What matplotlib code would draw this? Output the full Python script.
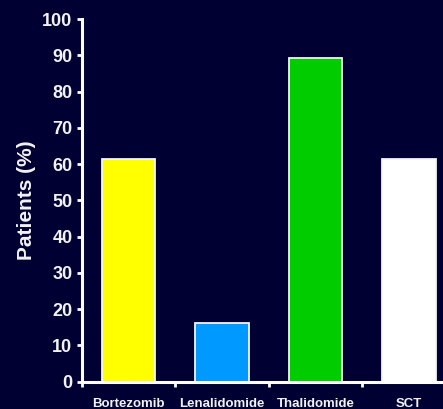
import matplotlib
matplotlib.use("Agg")
import matplotlib.pyplot as plt
import numpy as np

# Share of patients per treatment
categories = ["Bortezomib", "Lenalidomide", "Thalidomide", "SCT"]
values = [61.4, 16.1, 89.4, 61.4]
bar_colors = ["#FFFF00", "#0099FF", "#00CC00", "#FFFFFF"]
y_ticks = [0, 10, 20, 30, 40, 50, 60, 70, 80, 90, 100]

bg = "#000033"
fg = "#F2F2F2"

plt.rcParams["font.family"] = ["Liberation Sans", "DejaVu Sans"]
plt.rcParams["font.weight"] = "bold"

fig = plt.figure(figsize=(4.43, 4.09), dpi=100, facecolor=bg)
ax = fig.add_axes([0.184, 0.0672, 0.845, 0.886], facecolor=bg)

x = np.arange(len(categories))
ax.bar(x, values, width=0.57, color=bar_colors, edgecolor="#F4F4F4", linewidth=1.3, zorder=2)

ax.set_xlim(-0.5, len(categories) - 0.5)
ax.set_ylim(0, 100)

for side in ("top", "right"):
    ax.spines[side].set_visible(False)
for side in ("left", "bottom"):
    ax.spines[side].set_color("white")
    ax.spines[side].set_linewidth(2.2)

ax.set_yticks(y_ticks)
ax.set_yticklabels([str(t) for t in y_ticks], fontsize=13, fontweight="bold", color=fg)
ax.tick_params(axis="y", direction="out", length=3.5, width=2, color="white", pad=3)

ax.set_xticks(x)
ax.set_xticklabels(categories, fontsize=9.5, fontweight="bold", color=fg)
ax.tick_params(axis="x", which="major", length=0, pad=12)
ax.set_xticks(np.arange(-0.5, len(categories)), minor=True)
ax.tick_params(axis="x", which="minor", direction="out", length=3.5, width=2, color="white")

ax.set_ylabel("Patients (%)", fontsize=15, fontweight="bold", color=fg, labelpad=4.5)

fig.savefig("out.png", dpi=100, facecolor=bg)
